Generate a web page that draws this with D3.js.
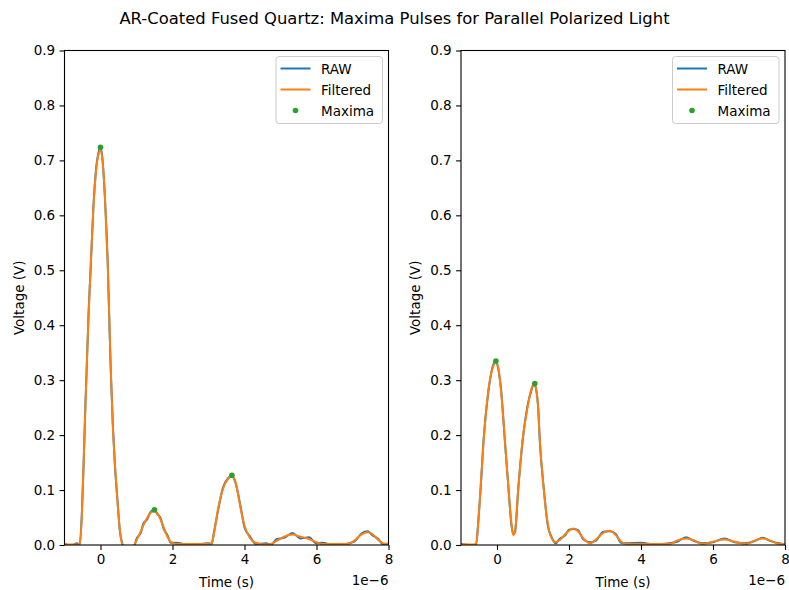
<!DOCTYPE html>
<html>
<head>
<meta charset="utf-8">
<script src="https://cdn.jsdelivr.net/npm/d3@7"></script>
<style>
  html, body { margin: 0; padding: 0; background: #fff; }
  svg { display: block; font-family: "DejaVu Sans", sans-serif; }
</style>
</head>
<body>
<svg id="chart" width="789" height="590"></svg>
<script>
// Time samples are in microseconds (axis offset shows 1e-6 s).
const timesLeft = [-1.0, -0.8, -0.65, -0.58, -0.52, -0.47, -0.42, -0.38, -0.33, -0.27,
  -0.20, -0.12, -0.06, 0.0, 0.05, 0.12, 0.20, 0.28, 0.34, 0.40,
  0.47, 0.54, 0.60, 0.70, 0.85, 0.94, 1.00, 1.11, 1.20, 1.29,
  1.40, 1.50, 1.58, 1.67, 1.75, 1.86, 1.95, 2.10, 2.50, 3.00,
  3.09, 3.15, 3.26, 3.40, 3.55, 3.65, 3.75, 3.90, 4.00, 4.15,
  4.31, 4.60, 4.73, 4.90, 5.10, 5.33, 5.55, 5.79, 6.00, 6.15,
  6.50, 6.89, 7.05, 7.25, 7.42, 7.55, 7.70, 7.86, 8.00];
const rawLeft = [0.002, -0.001, 0.003, 0.000, 0.054, 0.145, 0.254, 0.327, 0.424, 0.508,
  0.612, 0.687, 0.713, 0.724, 0.706, 0.636, 0.515, 0.327, 0.223, 0.145,
  0.083, 0.024, 0.004, -0.012, -0.008, -0.002, 0.011, 0.021, 0.040, 0.046,
  0.061, 0.064, 0.056, 0.049, 0.030, 0.018, 0.004, 0.004, 0.000, 0.003,
  0.002, 0.023, 0.061, 0.104, 0.122, 0.127, 0.113, 0.067, 0.032, 0.016,
  0.002, 0.003, 0.000, 0.011, 0.013, 0.022, 0.012, 0.014, 0.003, 0.004,
  0.000, 0.003, 0.006, 0.021, 0.025, 0.018, 0.012, 0.001, 0.003];
const filteredLeft = [0.001, 0.001, 0.001, 0.002, 0.050, 0.148, 0.250, 0.330, 0.420, 0.512,
  0.610, 0.683, 0.710, 0.719, 0.703, 0.638, 0.512, 0.330, 0.220, 0.148,
  0.080, 0.027, 0.002, -0.010, -0.010, 0.000, 0.008, 0.024, 0.037, 0.0485,
  0.059, 0.0625, 0.058, 0.046, 0.033, 0.015, 0.006, 0.002, 0.002, 0.002,
  0.004, 0.020, 0.064, 0.102, 0.121, 0.125, 0.115, 0.064, 0.035, 0.013,
  0.004, 0.001, 0.002, 0.008, 0.015, 0.019, 0.015, 0.011, 0.005, 0.002,
  0.002, 0.002, 0.008, 0.019, 0.023, 0.020, 0.010, 0.003, 0.002];
const maximaTimesLeft = [0.0, 1.50, 3.65];
const maximaLeft = [0.724, 0.064, 0.127];

const timesRight = [-1.0, -0.7, -0.58, -0.52, -0.46, -0.37, -0.24, -0.12, -0.03, 0.03,
  0.11, 0.22, 0.32, 0.40, 0.45, 0.50, 0.59, 0.71, 0.85, 0.95,
  1.03, 1.08, 1.14, 1.19, 1.30, 1.41, 1.52, 1.63, 1.74, 1.90,
  2.00, 2.13, 2.25, 2.40, 2.59, 2.75, 2.95, 3.13, 3.30, 3.45,
  3.59, 4.00, 4.40, 4.79, 5.00, 5.25, 5.45, 5.71, 6.00, 6.32,
  6.60, 6.92, 7.15, 7.38, 7.60, 7.84, 8.00];
const rawRight = [0.002, 0.000, 0.001, 0.043, 0.097, 0.194, 0.279, 0.325, 0.335, 0.322,
  0.285, 0.188, 0.103, 0.037, 0.020, 0.023, 0.103, 0.188, 0.254, 0.280,
  0.294, 0.285, 0.254, 0.188, 0.103, 0.036, 0.014, 0.003, 0.011, 0.018,
  0.028, 0.029, 0.027, 0.010, 0.005, 0.008, 0.024, 0.025, 0.020, 0.004,
  0.003, 0.004, 0.001, 0.003, 0.006, 0.014, 0.008, 0.003, 0.005, 0.012,
  0.005, 0.003, 0.007, 0.013, 0.007, 0.003, 0.001];
const filteredRight = [0.001, 0.001, 0.002, 0.040, 0.100, 0.191, 0.282, 0.322, 0.333, 0.325,
  0.282, 0.191, 0.100, 0.040, 0.018, 0.025, 0.100, 0.191, 0.251, 0.283,
  0.291, 0.287, 0.251, 0.191, 0.100, 0.039, 0.012, 0.005, 0.009, 0.020,
  0.026, 0.030, 0.025, 0.012, 0.003, 0.010, 0.022, 0.026, 0.018, 0.006,
  0.002, 0.002, 0.002, 0.002, 0.008, 0.012, 0.009, 0.002, 0.006, 0.010,
  0.006, 0.002, 0.008, 0.012, 0.008, 0.002, 0.002];
const maximaTimesRight = [-0.03, 1.05];
const maximaRight = [0.335, 0.294];

const xTicks = [0, 2, 4, 6, 8];
const yTicks = [0.0, 0.1, 0.2, 0.3, 0.4, 0.5, 0.6, 0.7, 0.8, 0.9];
const legendLabels = ["RAW", "Filtered", "Maxima"];

const title = "AR-Coated Fused Quartz: Maxima Pulses for Parallel Polarized Light";
const xLabel = "Time (s)";
const yLabel = "Voltage (V)";
const offsetLabel = "1e\u22126";

const COLORS = { raw: "#1f77b4", filtered: "#ff7f0e", maxima: "#2ca02c" };
const FONT_SIZE = 13.5;

const svg = d3.select("#chart");

svg.append("text")
  .attr("x", 394.5).attr("y", 18)
  .attr("text-anchor", "middle").attr("dominant-baseline", "central")
  .attr("font-size", 16.4).attr("fill", "#000")
  .text(title);

const panels = [
  { left: 64.5, times: timesLeft, raw: rawLeft, filtered: filteredLeft,
    mt: maximaTimesLeft, mv: maximaLeft, id: "L" },
  { left: 461, times: timesRight, raw: rawRight, filtered: filteredRight,
    mt: maximaTimesRight, mv: maximaRight, id: "R" }
];
const plotW = 324, plotTop = 50.5, plotBottom = 545;

panels.forEach(p => {
  const x = d3.scaleLinear().domain([-1, 8]).range([p.left, p.left + plotW]);
  const y = d3.scaleLinear().domain([0, 0.9]).range([plotBottom, plotTop]);
  const g = svg.append("g");

  g.append("clipPath").attr("id", "clip" + p.id)
    .append("rect").attr("x", p.left).attr("y", plotTop)
    .attr("width", plotW).attr("height", plotBottom - plotTop);

  const plot = g.append("g").attr("clip-path", `url(#clip${p.id})`);
  const line = vals => d3.line()
    .x((d, i) => x(p.times[i])).y(d => y(d))
    .curve(d3.curveMonotoneX)(vals);

  plot.append("path").attr("d", line(p.raw))
    .attr("fill", "none").attr("stroke", COLORS.raw).attr("stroke-width", 2);
  plot.append("path").attr("d", line(p.filtered))
    .attr("fill", "none").attr("stroke", COLORS.filtered).attr("stroke-width", 2);

  g.append("g").selectAll("circle").data(p.mv).join("circle")
    .attr("cx", (d, i) => x(p.mt[i])).attr("cy", d => y(d))
    .attr("r", 2.8).attr("fill", COLORS.maxima);

  // axes
  const xAxis = g.append("g").attr("transform", `translate(0,${plotBottom})`)
    .call(d3.axisBottom(x).tickValues(xTicks).tickFormat(d3.format("d"))
      .tickSizeOuter(0).tickSize(4.9).tickPadding(4.5));
  const yAxis = g.append("g").attr("transform", `translate(${p.left},0)`)
    .call(d3.axisLeft(y).tickValues(yTicks).tickFormat(d3.format(".1f"))
      .tickSizeOuter(0).tickSize(4.9).tickPadding(4.5));
  [xAxis, yAxis].forEach(a => {
    a.select(".domain").remove();
    a.selectAll("line").attr("stroke", "#000").attr("stroke-width", 1.1);
    a.selectAll("text").attr("font-size", FONT_SIZE).attr("fill", "#000")
      .attr("font-family", "DejaVu Sans, sans-serif");
  });

  // frame
  g.append("rect").attr("x", p.left).attr("y", plotTop)
    .attr("width", plotW).attr("height", plotBottom - plotTop)
    .attr("fill", "none").attr("stroke", "#000").attr("stroke-width", 1.1);

  // axis labels
  g.append("text").attr("x", p.left + plotW / 2).attr("y", 581.5)
    .attr("text-anchor", "middle").attr("dominant-baseline", "central")
    .attr("font-size", FONT_SIZE).text(xLabel);
  g.append("text").attr("x", p.left + plotW).attr("y", 580)
    .attr("text-anchor", "end").attr("dominant-baseline", "central")
    .attr("font-size", FONT_SIZE).text(offsetLabel);
  g.append("text")
    .attr("transform", `translate(${p.left - 46},${(plotTop + plotBottom) / 2}) rotate(-90)`)
    .attr("text-anchor", "middle").attr("dominant-baseline", "central")
    .attr("font-size", FONT_SIZE).text(yLabel);

  // legend
  const lx = p.left + 211.5, ly = 56.5;
  const lg = g.append("g");
  lg.append("rect").attr("x", lx).attr("y", ly).attr("width", 106.5).attr("height", 67)
    .attr("rx", 3).attr("fill", "#fff").attr("fill-opacity", 0.8)
    .attr("stroke", "#cccccc").attr("stroke-width", 1);
  const rows = [68.5, 89.5, 110.5];
  lg.append("line").attr("x1", lx + 4.5).attr("x2", lx + 34.5)
    .attr("y1", rows[0]).attr("y2", rows[0])
    .attr("stroke", COLORS.raw).attr("stroke-width", 2);
  lg.append("line").attr("x1", lx + 4.5).attr("x2", lx + 34.5)
    .attr("y1", rows[1]).attr("y2", rows[1])
    .attr("stroke", COLORS.filtered).attr("stroke-width", 2);
  lg.append("circle").attr("cx", lx + 19.5).attr("cy", rows[2])
    .attr("r", 2.8).attr("fill", COLORS.maxima);
  legendLabels.forEach((t, i) => {
    lg.append("text").attr("x", lx + 45).attr("y", rows[i])
      .attr("dominant-baseline", "central").attr("font-size", FONT_SIZE).text(t);
  });
});
</script>
</body>
</html>
